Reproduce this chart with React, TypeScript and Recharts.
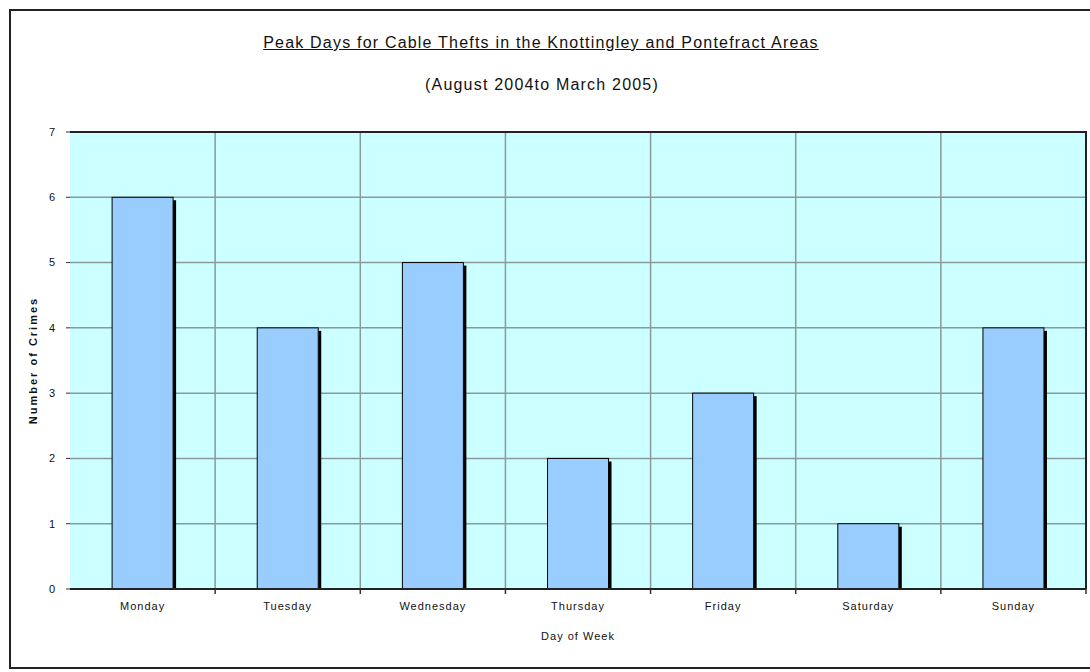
import { Bar, BarChart, CartesianGrid, Label, ReferenceArea, XAxis, YAxis } from 'recharts'

const days = ['Monday', 'Tuesday', 'Wednesday', 'Thursday', 'Friday', 'Saturday', 'Sunday']
const crimes = [6, 4, 5, 2, 3, 1, 4]
const yTicks = [0, 1, 2, 3, 4, 5, 6, 7]

const chartData = days.map((day, i) => ({ day, crimes: crimes[i] }))

const font = '"Liberation Sans", Arial, sans-serif'
const TICK_MARGIN = 13

// excel-style bar: black outline with a dark drop shadow on the right
const ShadowBar = (props: any) => {
  const { x, y, width, height } = props
  if (!height || height <= 0) return null
  return (
    <g>
      <rect x={x + width} y={y + 3} width={3} height={height - 3} fill="#000" />
      <rect x={x} y={y} width={width} height={height} fill="#99CCFF" stroke="#000" strokeWidth={1} />
    </g>
  )
}

// category label plus little tick marks at the category boundaries
const DayTick = (props: any) => {
  const { x, y, payload, width, index } = props
  const half = width / days.length / 2
  const axisY = y - TICK_MARGIN
  return (
    <g>
      {index > 0 && (
        <line x1={x - half} x2={x - half} y1={axisY} y2={axisY + 5} stroke="#333" strokeWidth={1.5} />
      )}
      {index === days.length - 1 && (
        <line x1={x + half} x2={x + half} y1={axisY} y2={axisY + 5} stroke="#333" strokeWidth={1.5} />
      )}
      <text x={x} y={y} dy="0.71em" textAnchor="middle" fill="#111" fontSize={11} fontFamily={font} letterSpacing={1}>
        {payload.value}
      </text>
    </g>
  )
}

const App = () => {
  return (
    <div style={{ position: 'absolute', left: 0, top: 0, width: 1090, height: 672, background: '#fff', fontFamily: font, overflow: 'hidden' }}>
      <div style={{ position: 'absolute', left: 9, top: 9, width: 1100, height: 660, border: '2px solid #222', boxSizing: 'border-box' }} />
      <div style={{ position: 'absolute', left: 0, width: 1082, top: 34, textAlign: 'center', fontSize: 16, letterSpacing: 1.2, textDecoration: 'underline', color: '#111' }}>
        Peak Days for Cable Thefts in the Knottingley and Pontefract Areas
      </div>
      <div style={{ position: 'absolute', left: 0, width: 1084, top: 76, textAlign: 'center', fontSize: 16, letterSpacing: 1.2, color: '#111' }}>
        (August 2004to March 2005)
      </div>
      <BarChart
        width={1090}
        height={672}
        data={chartData}
        margin={{ top: 132, right: 4, left: 10, bottom: 0 }}
        style={{ position: 'absolute', left: 0, top: 0 }}
        barCategoryGap="29%"
      >
        <CartesianGrid
          fill="#CCFFFF"
          stroke="#8a9a9a"
          strokeWidth={1.5}
          verticalCoordinatesGenerator={({ offset }: any) =>
            days.slice(1).map((_, i) => offset.left + ((i + 1) * offset.width) / days.length)
          }
        />
        <XAxis
          dataKey="day"
          height={83}
          tickSize={0}
          tickMargin={TICK_MARGIN}
          axisLine={{ stroke: '#222', strokeWidth: 2 }}
          tickLine={false}
          tick={<DayTick />}
        >
          <Label value="Day of Week" position="insideBottom" offset={32} style={{ fill: '#111', fontSize: 11, letterSpacing: 1, fontFamily: font }} />
        </XAxis>
        <YAxis
          domain={[0, 7]}
          ticks={yTicks}
          width={60}
          tickSize={4}
          tickMargin={11}
          axisLine={false}
          stroke="#333"
          tick={{ fill: '#111', fontSize: 11, fontFamily: font }}
        >
          <Label value="Number of Crimes" angle={-90} position="insideLeft" offset={23} style={{ fill: '#111', fontSize: 11, fontWeight: 'bold', letterSpacing: 2, fontFamily: font, textAnchor: 'middle' }} />
        </YAxis>
        {/* plot frame: only top and right edges are dark */}
        <ReferenceArea
          x1={days[0]}
          x2={days[days.length - 1]}
          y1={0}
          y2={7}
          fill="none"
          stroke="#222"
          strokeWidth={2}
          strokeDasharray="1473 1473"
        />
        <Bar dataKey="crimes" shape={ShadowBar} isAnimationActive={false} />
      </BarChart>
    </div>
  )
}

export default App
